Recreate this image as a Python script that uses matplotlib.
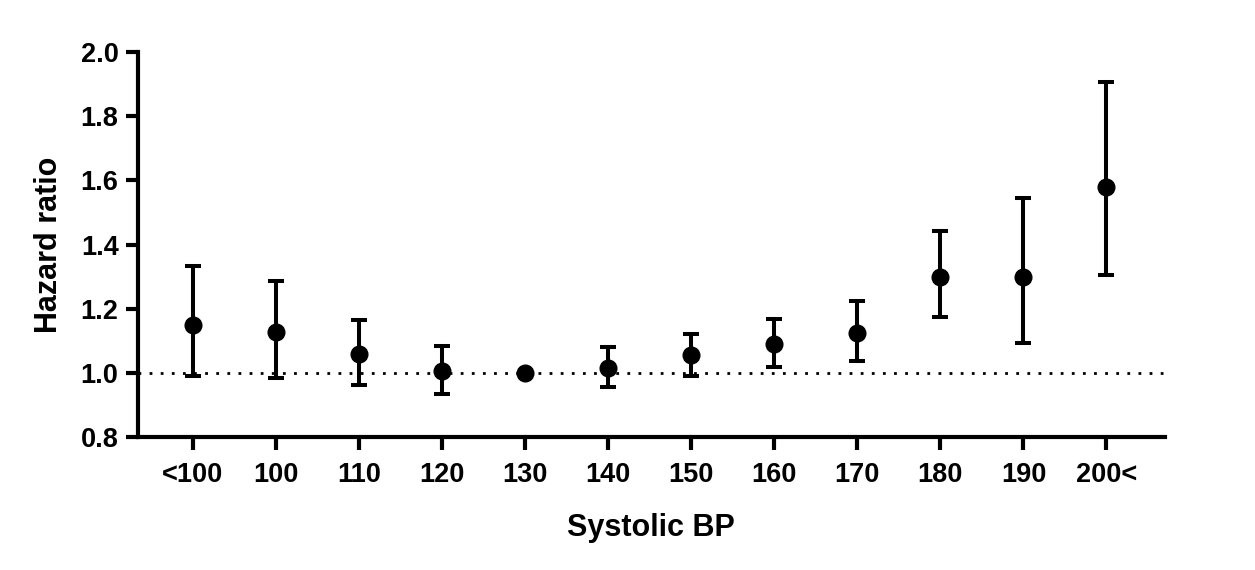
import matplotlib.pyplot as plt

plt.rcParams['font.family'] = ['Liberation Sans', 'DejaVu Sans']
plt.rcParams['font.weight'] = 'bold'

# Data
categories = ['<100', '100', '110', '120', '130', '140', '150', '160', '170', '180', '190', '200<']
hr = [1.150, 1.128, 1.060, 1.006, 1.000, 1.017, 1.055, 1.089, 1.126, 1.300, 1.300, 1.578]
ci_low = [0.990, 0.985, 0.963, 0.935, 1.000, 0.957, 0.992, 1.018, 1.036, 1.173, 1.094, 1.306]
ci_high = [1.333, 1.287, 1.165, 1.084, 1.000, 1.082, 1.122, 1.167, 1.223, 1.443, 1.545, 1.907]

x = list(range(len(categories)))
err_low = [h - l for h, l in zip(hr, ci_low)]
err_high = [u - h for h, u in zip(hr, ci_high)]

fig = plt.figure(figsize=(12.55, 5.7), dpi=100)
ax = fig.add_axes([0.110, 0.233, 0.818, 0.676])

ax.axhline(1.0, color='black', lw=2, linestyle=(0, (1, 3)), zorder=1)
ax.errorbar(x, hr, yerr=[err_low, err_high], fmt='o', color='black',
            markersize=12, elinewidth=2.9, capsize=5.5, capthick=2.9, zorder=3)

ax.set_xlim(-0.66, 11.7)
ax.set_ylim(0.8, 2.0)
ax.set_yticks([0.8, 1.0, 1.2, 1.4, 1.6, 1.8, 2.0])
ax.set_yticklabels(['0.8', '1.0', '1.2', '1.4', '1.6', '1.8', '2.0'])
ax.set_xticks(x)
ax.set_xticklabels(categories)

for s in ['top', 'right']:
    ax.spines[s].set_visible(False)
for s in ['left', 'bottom']:
    ax.spines[s].set_linewidth(3)
ax.tick_params(axis='both', width=3, length=9, labelsize=19.5, pad=5)
ax.tick_params(axis='x', pad=9)

ax.set_xlabel('Systolic BP', fontsize=22, fontweight='bold', labelpad=18)
ax.set_ylabel('Hazard ratio', fontsize=22, fontweight='bold', labelpad=12)

fig.savefig('out.png', dpi=100)
